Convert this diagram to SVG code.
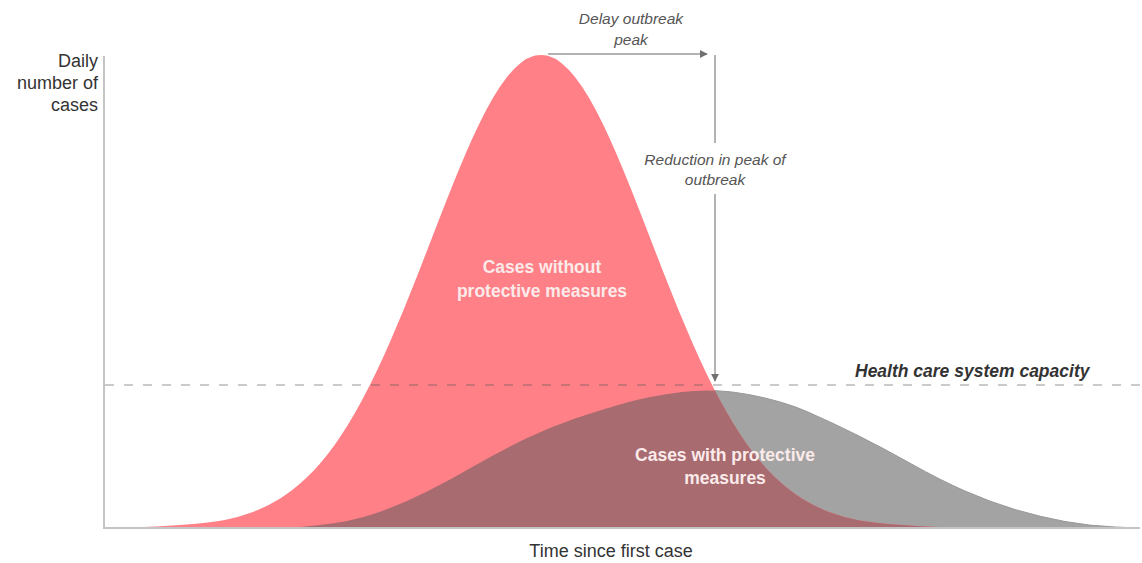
<svg xmlns="http://www.w3.org/2000/svg" width="1142" height="563" viewBox="0 0 1142 563">
<style>
.lbl{font-family:"Liberation Sans",Arial,sans-serif;fill:#333;font-size:18px}
.note{font-family:"Liberation Sans",Arial,sans-serif;font-style:italic;fill:#555;font-size:15.5px;text-anchor:middle}
.inner{font-family:"Liberation Sans",Arial,sans-serif;font-weight:bold;fill:#fbeaea;font-size:17.5px;text-anchor:middle}
.cap{font-family:"Liberation Sans",Arial,sans-serif;font-weight:bold;font-style:italic;fill:#333;font-size:17.5px}
.arrow{stroke:#9a9a9a;stroke-width:1.5;fill:none}
.axis{stroke:#c4c4c4;stroke-width:2;fill:none}
</style>
<defs>
<marker id="ah" viewBox="0 0 10 10" refX="9" refY="5" markerWidth="8" markerHeight="8" markerUnits="userSpaceOnUse" orient="auto">
<path d="M0,0 L10,5 L0,10 Z" fill="#707070"/>
</marker>
<path id="grayCurve" d="M290,528 L320,525 Q350,522 375,513.5 Q400,505 425,492.5 Q450,480 475,465.5 Q500,451 525,439 Q550,427 575,418.5 Q600,410 625,403 Q650,396 682,392 Q714,388 748.5,394.5 Q783,401 808,412 Q833,423 858,435.5 Q883,448 911.5,464 Q940,480 965,491 Q990,502 1015,509.5 Q1040,517 1065,521.5 Q1090,526 1115,527 L1140,528 Z"/>
<path id="redCurve" d="M104,528 L130,527.5 Q156,527 183.5,524.85 Q211,522.7 224.75,519.95 Q238.5,517.2 252.25,512.2 Q266,507.2 279.75,498.75 Q293.5,490.3 307.25,477.1 Q321,463.9 334.75,444.7 Q348.5,425.5 362.25,399.8 Q376,374.1 389.75,342.55 Q403.5,311 417.25,275.75 Q431,240.5 437.875,222.6 Q444.75,204.7 451.625,187.45 Q458.5,170.2 465.375,154.15 Q472.25,138.1 479.125,123.9 Q486,109.7 492.875,97.95 Q499.75,86.2 506.625,77.4 Q513.5,68.6 520.375,63.15 Q527.25,57.7 534.125,55.85 Q541,54 547.875,55.85 Q554.75,57.7 561.625,63.15 Q568.5,68.6 575.375,77.4 Q582.25,86.2 589.125,97.95 Q596,109.7 602.875,123.9 Q609.75,138.1 616.625,154.15 Q623.5,170.2 630.375,187.45 Q637.25,204.7 644.125,222.6 Q651,240.5 664.75,275.75 Q678.5,311 692.25,342.55 Q706,374.1 719.75,399.8 Q733.5,425.5 747.25,444.7 Q761,463.9 774.75,477.1 Q788.5,490.3 802.25,498.75 Q816,507.2 829.75,512.2 Q843.5,517.2 857.25,519.95 Q871,522.7 898.5,524.85 Q926,527 952,527.5 L978,528 Z"/>
<clipPath id="grayClip"><use href="#grayCurve"/></clipPath>
</defs>
<rect width="1142" height="563" fill="#ffffff"/>

<g id="curve-with-measures">
<use href="#grayCurve" fill="#a3a3a3" stroke="#999" stroke-width="1"/>
</g>
<g id="curve-without-measures">
<use href="#redCurve" fill="#ff8087"/>
<use href="#redCurve" fill="#a86b70" clip-path="url(#grayClip)"/>
</g>

<g id="capacity-line">
<line x1="105" y1="385" x2="1140" y2="385" stroke="#555" stroke-opacity="0.42" stroke-width="1.6" stroke-dasharray="9 10"/>
<text class="cap" x="855" y="377">Health care system capacity</text>
</g>

<g id="axes">
<path class="axis" d="M104,56 L104,528 L1140,528"/>
<text class="lbl" text-anchor="end"><tspan x="98" y="67">Daily</tspan><tspan x="98" y="89">number of</tspan><tspan x="98" y="111">cases</tspan></text>
<text class="lbl" x="611" y="557" text-anchor="middle">Time since first case</text>
</g>

<g id="label-without">
<text class="inner"><tspan x="542" y="273">Cases without</tspan><tspan x="542" y="297">protective measures</tspan></text>
</g>
<g id="label-with">
<text class="inner"><tspan x="725" y="461">Cases with protective</tspan><tspan x="725" y="484">measures</tspan></text>
</g>

<g id="connectors">
<line class="arrow" x1="548" y1="54" x2="707" y2="54" marker-end="url(#ah)"/>
<line class="arrow" x1="715" y1="55" x2="715" y2="143"/>
<line class="arrow" x1="715" y1="194" x2="715" y2="381" marker-end="url(#ah)"/>
</g>

<g id="label-delay">
<text class="note"><tspan x="631" y="24">Delay outbreak</tspan><tspan x="631" y="45">peak</tspan></text>
</g>
<g id="label-reduction">
<text class="note"><tspan x="715" y="165">Reduction in peak of</tspan><tspan x="715" y="185">outbreak</tspan></text>
</g>
</svg>
